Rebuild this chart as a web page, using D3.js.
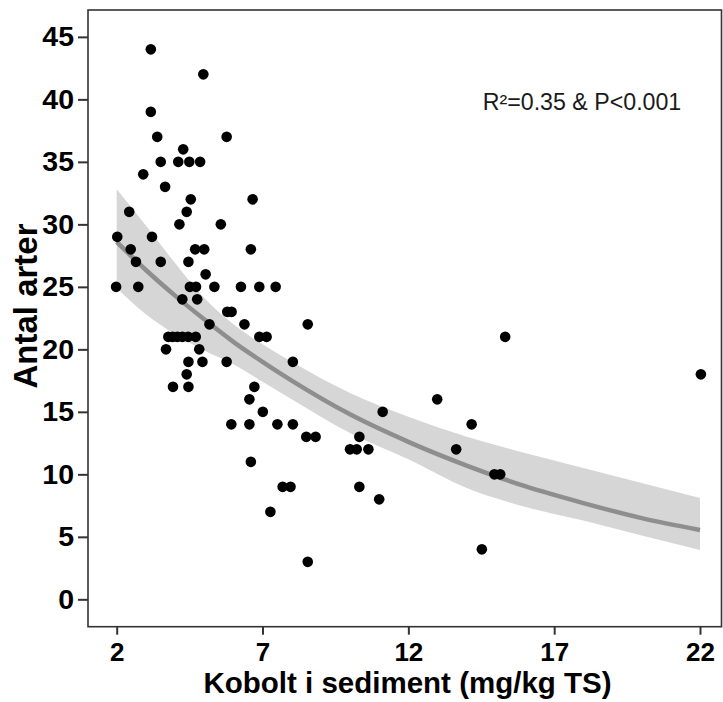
<!DOCTYPE html>
<html>
<head>
<meta charset="utf-8">
<script src="https://cdn.jsdelivr.net/npm/d3@7/dist/d3.min.js"></script>
<style>
    body { margin: 0; background: #ffffff; }
    text { font-family: "Liberation Sans", Arial, sans-serif; }
</style>
</head>
<body>
<div id="scatterPlot"></div>
<script>
// Kobolt (mg/kg TS) and number of species
let kobolt = [
    3.17, 4.97, 3.17, 3.39, 5.77, 4.28, 3.51, 4.11, 4.49, 4.86,
    2.91, 3.66, 4.54, 6.66, 2.43, 4.40, 4.15, 5.57, 2.02, 3.21,
    2.48, 4.69, 5.00, 6.60, 2.66, 3.51, 4.46, 5.05,
    1.98, 2.74, 4.51, 4.72, 5.35, 6.26, 6.89, 7.45,
    4.25, 4.76, 5.79, 5.94, 5.18, 6.38, 8.55,
    3.77, 3.92, 4.08, 4.25, 4.45, 4.71, 6.89, 7.14, 15.32,
    3.69, 4.83, 4.46, 4.94, 5.77, 8.04, 4.40, 22.03,
    3.93, 4.46, 6.72, 6.55, 12.99, 7.01, 11.12,
    5.93, 6.55, 7.51, 8.04, 14.17, 8.50, 8.82, 10.32,
    10.00, 10.23, 10.63, 13.64, 6.60, 14.95, 15.15,
    7.69, 7.96, 10.32, 11.00, 7.27, 14.52, 8.55
]
let antalArter = [
    44, 42, 39, 37, 37, 36, 35, 35, 35, 35,
    34, 33, 32, 32, 31, 31, 30, 30, 29, 29,
    28, 28, 28, 28, 27, 27, 27, 26,
    25, 25, 25, 25, 25, 25, 25, 25,
    24, 24, 23, 23, 22, 22, 22,
    21, 21, 21, 21, 21, 21, 21, 21, 21,
    20, 20, 19, 19, 19, 19, 18, 18,
    17, 17, 17, 16, 16, 15, 15,
    14, 14, 14, 14, 14, 13, 13, 13,
    12, 12, 12, 12, 11, 10, 10,
    9, 9, 9, 8, 7, 4, 3
]

// fitted curve and its confidence band
let fitX = [2, 3, 4, 5, 6, 7, 8, 10, 12, 14, 16, 18, 20, 22]
let fitY = [28.6, 26.35, 24.3, 22.4, 20.6, 19.0, 17.5, 14.8, 12.6, 10.7, 9.05, 7.7, 6.5, 5.55]
let fitUpper = [32.8, 29.9, 26.9, 24.1, 22.0, 20.4, 19.0, 16.5, 14.6, 13.0, 11.7, 10.5, 9.3, 8.1]
let fitLower = [24.9, 22.8, 21.2, 19.9, 18.8, 17.4, 16.0, 13.3, 11.2, 8.9, 7.4, 6.3, 5.1, 3.95]

let xTicks = [2, 7, 12, 17, 22]
let yTicks = [0, 5, 10, 15, 20, 25, 30, 35, 40, 45]
let annotation = "R\u00b2=0.35 & P<0.001"

let width = 723
let height = 702
let panel = { left: 88, top: 10, right: 721.5, bottom: 626.7 }

let svg = d3.select('#scatterPlot')
    .append('svg')
    .attr("width", width)
    .attr("height", height)

let x = d3.scaleLinear()
    .domain([1.016, 22.754])
    .range([panel.left, panel.right + 0.5])
let y = d3.scaleLinear()
    .domain([-2.19, 47.15])
    .range([panel.bottom, panel.top])

let fitData = fitX.map((d, i) => ({ x: d, y: fitY[i], lo: fitLower[i], hi: fitUpper[i] }))

// band + line
svg.append("path")
    .datum(fitData)
    .attr("fill", "#d6d6d6")
    .attr("d", d3.area()
        .x(d => x(d.x))
        .y0(d => y(d.lo))
        .y1(d => y(d.hi))
        .curve(d3.curveMonotoneX))

svg.append("path")
    .datum(fitData)
    .attr("fill", "none")
    .attr("stroke", "#8e8e8e")
    .attr("stroke-width", 4.5)
    .attr("d", d3.line()
        .x(d => x(d.x))
        .y(d => y(d.y))
        .curve(d3.curveMonotoneX))

let points = kobolt.map((d, i) => ({ x: d, y: antalArter[i] }))
svg.append("g")
    .selectAll(".dot")
    .data(points)
    .enter()
    .append("circle")
    .attr("class", "dot")
    .attr("cx", d => x(d.x))
    .attr("cy", d => y(d.y))
    .attr("r", 5.3)
    .style("fill", "#000000")

// panel border
svg.append("rect")
    .attr("x", panel.left)
    .attr("y", panel.top)
    .attr("width", panel.right - panel.left)
    .attr("height", panel.bottom - panel.top)
    .attr("fill", "none")
    .attr("stroke", "#333333")
    .attr("stroke-width", 1.6)

let xAxis = svg.append("g")
    .attr("transform", "translate(0," + panel.bottom + ")")
    .call(d3.axisBottom(x).tickValues(xTicks).tickSize(8).tickPadding(8))
let yAxis = svg.append("g")
    .attr("transform", "translate(" + panel.left + ",0)")
    .call(d3.axisLeft(y).tickValues(yTicks).tickSize(10).tickPadding(4))

xAxis.select(".domain").remove()
yAxis.select(".domain").remove()
svg.selectAll(".tick line")
    .attr("stroke", "#333333")
    .attr("stroke-width", 2)
svg.selectAll(".tick text")
    .attr("font-weight", "bold")
    .attr("fill", "#000")
    .attr("font-family", "Liberation Sans, Arial, sans-serif")
xAxis.selectAll(".tick text").attr("font-size", 26)
yAxis.selectAll(".tick text").attr("font-size", 28.5)

svg.append("text")
    .attr("x", 407.5)
    .attr("y", 693)
    .attr("text-anchor", "middle")
    .attr("font-size", 29.5)
    .attr("font-weight", "bold")
    .text("Kobolt i sediment (mg/kg TS)")

svg.append("text")
    .attr("transform", "translate(36.5,306) rotate(-90)")
    .attr("text-anchor", "middle")
    .attr("font-size", 33)
    .attr("font-weight", "bold")
    .text("Antal arter")

svg.append("text")
    .attr("x", 582)
    .attr("y", 110)
    .attr("text-anchor", "middle")
    .attr("font-size", 23.2)
    .attr("fill", "#1a1a1a")
    .text(annotation)
</script>
</body>
</html>
